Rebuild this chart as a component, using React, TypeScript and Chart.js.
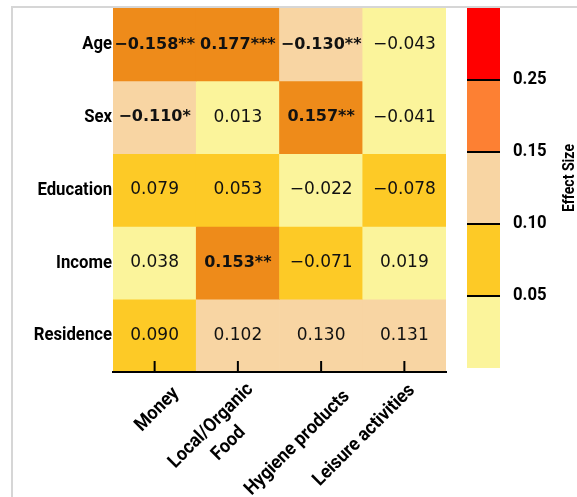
import React, { useEffect, useRef } from "react";
import { Chart, registerables } from "chart.js";

Chart.register(...registerables);

// Rows (demographic factors) and columns (spending categories)
const rowLabels = ["Age", "Sex", "Education", "Income", "Residence"];
const columnLabels: (string | string[])[] = [
  "Money",
  ["Local/Organic", "Food"],
  "Hygiene products",
  "Leisure activities",
];

// Effect sizes, one list per row
const ageEffects = [-0.158, 0.177, -0.13, -0.043];
const sexEffects = [-0.11, 0.013, 0.157, -0.041];
const educationEffects = [0.079, 0.053, -0.022, -0.078];
const incomeEffects = [0.038, 0.153, -0.071, 0.019];
const residenceEffects = [0.09, 0.102, 0.13, 0.131];
const effectSizes = [ageEffects, sexEffects, educationEffects, incomeEffects, residenceEffects];

// Significance markers, one list per row
const ageStars = ["**", "***", "**", ""];
const sexStars = ["*", "", "**", ""];
const educationStars = ["", "", "", ""];
const incomeStars = ["", "**", "", ""];
const residenceStars = ["", "", "", ""];
const significance = [ageStars, sexStars, educationStars, incomeStars, residenceStars];

// Colour bins on |effect size|
const binEdges = [0.05, 0.1, 0.15, 0.25];
const binEdgeLabels = ["0.05", "0.10", "0.15", "0.25"];
const cellColors = ["#FBF49B", "#FDCA26", "#F8D5A3", "#EE8B1A", "#FF0000"];
const colorbarColors = ["#FBF49B", "#FDCA26", "#F8D5A3", "#FD8033", "#FF0000"];

const labelFamily = 'Roboto, "DejaVu Sans Condensed", sans-serif';
const valueFamily = '"DejaVu Sans", Verdana, sans-serif';
const NARROW = 0.88;
const NARROW_X = 0.93;

// Offset of each rotated category label's baseline end from its tick foot
const tickLabelNudge = [
  [25, 22],
  [16, 18],
  [29, 25],
  [11, 19],
];

function binIndex(v: number): number {
  const a = Math.abs(v);
  let i = 0;
  while (i < binEdges.length && a >= binEdges[i]) i++;
  return i;
}

function formatValue(v: number, star: string): string {
  return (v < 0 ? "\u2212" : "") + Math.abs(v).toFixed(3) + star;
}

// Bold, horizontally condensed label text
function drawNarrow(
  ctx: CanvasRenderingContext2D,
  text: string,
  x: number,
  y: number,
  align: CanvasTextAlign,
  size: number
) {
  ctx.save();
  ctx.translate(x, y);
  ctx.scale(NARROW, 1);
  ctx.font = `bold ${size}px ${labelFamily}`;
  ctx.fillStyle = "#000";
  ctx.textAlign = align;
  ctx.textBaseline = "middle";
  ctx.fillText(text, 0, 0);
  ctx.restore();
}

// Writes the value (with stars) into each heatmap cell
const cellTextPlugin = {
  id: "cellText",
  afterDatasetsDraw(chart: any) {
    const ctx = chart.ctx;
    ctx.save();
    ctx.textAlign = "center";
    ctx.textBaseline = "middle";
    ctx.fillStyle = "#111";
    effectSizes.forEach((row, r) => {
      const meta = chart.getDatasetMeta(r);
      row.forEach((v, c) => {
        const el = meta.data[c];
        const star = significance[r][c];
        ctx.font = star ? `bold 16px ${valueFamily}` : `17px ${valueFamily}`;
        ctx.fillText(formatValue(v, star), el.x, (el.y + el.base) / 2);
      });
    });
    ctx.restore();
  },
};

// Row names, inward tick marks and rotated category labels
const axisLabelsPlugin = {
  id: "axisLabels",
  afterDraw(chart: any) {
    const { ctx, chartArea } = chart;
    const xs = chart.scales.x;
    const ys = chart.scales.y;
    rowLabels.forEach((name, i) => {
      drawNarrow(ctx, name, chartArea.left - 1, ys.getPixelForValue(i + 0.5), "right", 19);
    });

    const axisY = chartArea.bottom;
    ctx.save();
    ctx.strokeStyle = "#000";
    ctx.lineWidth = 2;
    columnLabels.forEach((lab, i) => {
      const px = xs.getPixelForTick(i);
      ctx.beginPath();
      ctx.moveTo(px, axisY);
      ctx.lineTo(px, axisY - 11);
      ctx.stroke();

      const lines = Array.isArray(lab) ? lab : [lab];
      const [dx, dy] = tickLabelNudge[i];
      ctx.save();
      ctx.translate(px + dx, axisY + dy);
      ctx.rotate(-Math.PI / 4);
      ctx.scale(NARROW_X, 1);
      ctx.font = `bold 19px ${labelFamily}`;
      ctx.fillStyle = "#000";
      ctx.textBaseline = "alphabetic";
      const w0 = ctx.measureText(lines[0]).width;
      lines.forEach((ln, k) => {
        ctx.textAlign = k === 0 ? "right" : "center";
        ctx.fillText(ln, k === 0 ? 0 : -w0 / 2, k * 25);
      });
      ctx.restore();
    });
    ctx.restore();
  },
};

// Colour-bar edge labels and vertical title
const colorbarLabelsPlugin = {
  id: "colorbarLabels",
  afterDraw(chart: any) {
    const { ctx, chartArea } = chart;
    const ys = chart.scales.y;
    binEdgeLabels.forEach((lab, i) => {
      drawNarrow(ctx, lab, chartArea.right + 13, ys.getPixelForValue(i + 1) - 1, "left", 19);
    });
    ctx.save();
    ctx.translate(chartArea.right + 70, 178);
    ctx.rotate(-Math.PI / 2);
    ctx.scale(NARROW, 1);
    ctx.font = `bold 16px ${labelFamily}`;
    ctx.fillStyle = "#000";
    ctx.textAlign = "center";
    ctx.textBaseline = "middle";
    ctx.fillText("Effect Size", 0, 0);
    ctx.restore();
  },
};

export default function App() {
  const heatRef = useRef<HTMLCanvasElement | null>(null);
  const barRef = useRef<HTMLCanvasElement | null>(null);

  useEffect(() => {
    if (!heatRef.current || !barRef.current) return;

    const heatmap = new Chart(heatRef.current, {
      type: "bar",
      data: {
        labels: columnLabels as any,
        datasets: rowLabels.map((name, r) => ({
          label: name,
          data: effectSizes[r].map(() => [r, r + 1]) as any,
          backgroundColor: effectSizes[r].map((v) => cellColors[binIndex(v)]),
          borderWidth: 0,
          barPercentage: 1,
          categoryPercentage: 1,
          grouped: false,
        })),
      },
      options: {
        animation: false,
        responsive: false,
        events: [],
        layout: { padding: { top: 8, right: 14, bottom: 0, left: 0 } },
        plugins: { legend: { display: false }, tooltip: { enabled: false } },
        scales: {
          x: {
            type: "category",
            offset: true,
            grid: { display: false, drawTicks: false },
            border: { display: true, color: "#000", width: 2, z: 1 },
            ticks: { display: false },
            afterFit: (s: any) => {
              s.height = 125;
              s.paddingLeft = 0;
              s.paddingRight = 0;
            },
          },
          y: {
            type: "linear",
            min: 0,
            max: rowLabels.length,
            reverse: true,
            grid: { display: false, drawTicks: false },
            border: { display: false },
            ticks: { display: false },
            afterFit: (s: any) => {
              s.width = 113;
              s.paddingTop = 0;
              s.paddingBottom = 0;
            },
          },
        },
      } as any,
      plugins: [cellTextPlugin, axisLabelsPlugin],
    });

    const colorbar = new Chart(barRef.current, {
      type: "bar",
      data: {
        labels: [""],
        datasets: colorbarColors.map((col, i) => ({
          label: `bin ${i}`,
          data: [[i, i + 1]] as any,
          backgroundColor: col,
          borderWidth: 0,
          barPercentage: 1,
          categoryPercentage: 1,
          grouped: false,
        })),
      },
      options: {
        animation: false,
        responsive: false,
        events: [],
        layout: { padding: { top: 8, right: 0, bottom: 129, left: 7 } },
        plugins: { legend: { display: false }, tooltip: { enabled: false } },
        scales: {
          x: { type: "category", display: false },
          y: {
            type: "linear",
            position: "right",
            min: 0,
            max: colorbarColors.length,
            grid: { color: "#000", lineWidth: 2, drawTicks: false, drawOnChartArea: true, z: 1 },
            border: { display: false },
            afterBuildTicks: (s: any) => {
              s.ticks = binEdgeLabels.map((_, i) => ({ value: i + 1 }));
            },
            ticks: { display: false },
            afterFit: (s: any) => {
              s.width = 77;
              s.paddingTop = 0;
              s.paddingBottom = 0;
            },
          },
        },
      } as any,
      plugins: [colorbarLabelsPlugin],
    });

    return () => {
      heatmap.destroy();
      colorbar.destroy();
    };
  }, []);

  return (
    <div
      style={{
        position: "fixed",
        left: 0,
        top: 0,
        width: 577,
        height: 497,
        background: "#fff",
        overflow: "hidden",
      }}
    >
      <div
        style={{
          position: "absolute",
          left: 11,
          top: 6,
          width: 700,
          height: 700,
          borderLeft: "2px solid #d6d6d6",
          borderTop: "2px solid #d6d6d6",
        }}
      />
      <canvas
        ref={heatRef}
        width={460}
        height={497}
        style={{ position: "absolute", left: 0, top: 0, width: 460, height: 497 }}
      />
      <canvas
        ref={barRef}
        width={117}
        height={497}
        style={{ position: "absolute", left: 460, top: 0, width: 117, height: 497 }}
      />
    </div>
  );
}
